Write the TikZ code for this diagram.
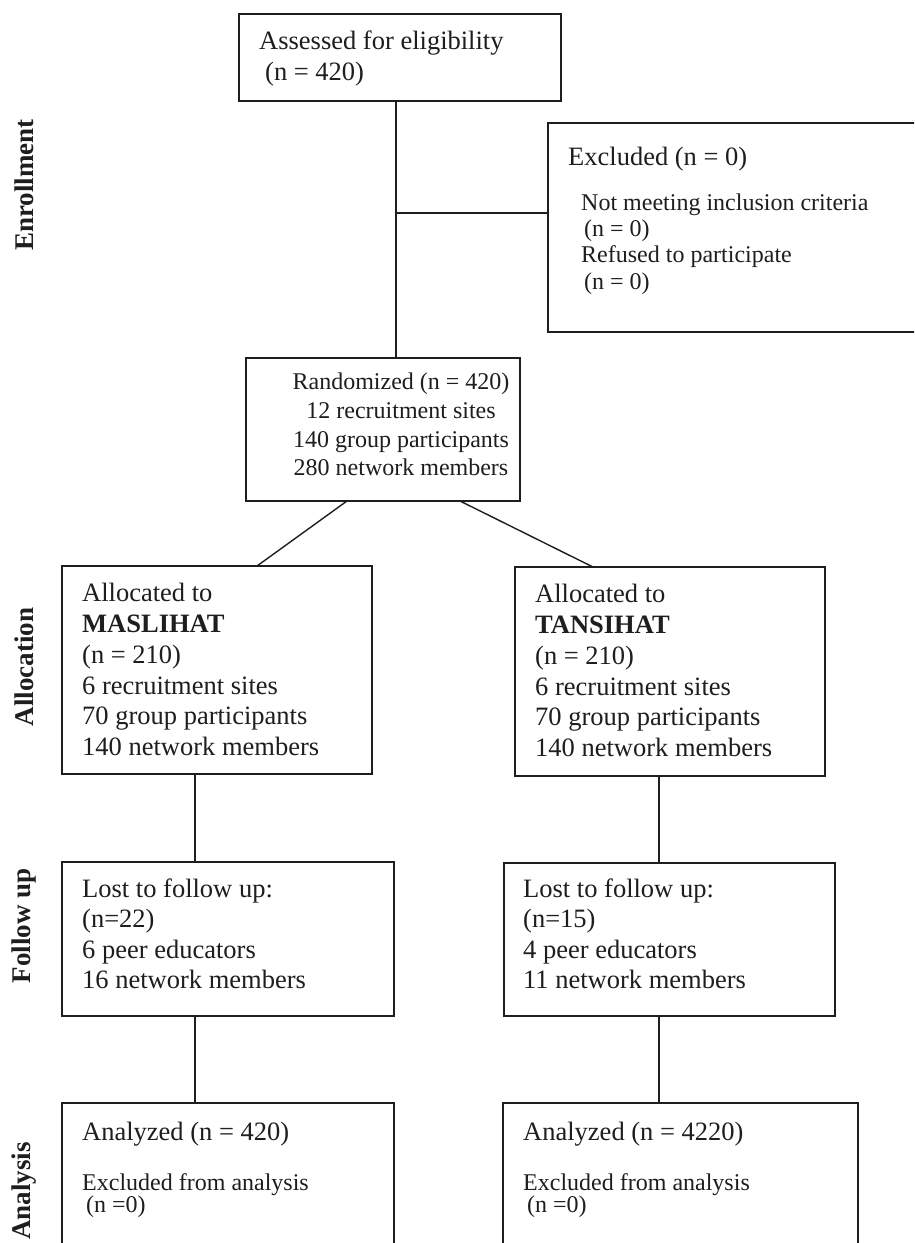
\documentclass[tikz,border=0pt]{standalone}
\usepackage{fontspec}
\setmainfont{Liberation Serif}
\definecolor{ink}{HTML}{1E1E1E}
\begin{document}
\begin{tikzpicture}[x=1pt,y=-1pt,
  box/.style={draw=ink, line width=1.4pt, inner sep=0pt, outer sep=0pt, anchor=north west},
  conn/.style={draw=ink, line width=1.4pt},
  big/.style={anchor=base west, inner sep=0pt, text=ink, font=\fontsize{26.5}{31}\selectfont},
  small/.style={anchor=base west, inner sep=0pt, text=ink, font=\fontsize{24}{28}\selectfont},
  side/.style={rotate=90, inner sep=0pt, text=ink, font=\fontsize{27}{30}\selectfont\bfseries}]
\clip (0,0) rectangle (914,1243);
\fill[white] (0,0) rectangle (914,1243);

% boxes
\node[box, minimum width=322pt, minimum height=87pt] (assess) at (239,14) {};
\node[box, minimum width=400pt, minimum height=209pt] (excl) at (548,123) {};
\node[box, minimum width=274pt, minimum height=143pt] (rand) at (246,358) {};
\node[box, minimum width=310pt, minimum height=208pt] (allocL) at (62,566) {};
\node[box, minimum width=310pt, minimum height=209pt] (allocR) at (515,567) {};
\node[box, minimum width=332pt, minimum height=154pt] (lostL) at (62,862) {};
\node[box, minimum width=331pt, minimum height=153pt] (lostR) at (504,863) {};
\node[box, minimum width=332pt, minimum height=200pt] (anaL) at (62,1103) {};
\node[box, minimum width=355pt, minimum height=200pt] (anaR) at (503,1103) {};

% texts
\node[big] (a1) at (259,49) {Assessed for eligibility};
\node[big] (a2) at (265,80) {(n = 420)};

\node[big] (e1) at (568,165) {Excluded (n = 0)};
\node[small] (e2) at (581,210) {Not meeting inclusion criteria};
\node[small] (e3) at (584,236) {(n = 0)};
\node[small] (e4) at (581,262) {Refused to participate};
\node[small] (e5) at (584,289) {(n = 0)};

\node[small, anchor=base] (r1) at (401,389) {Randomized (n = 420)};
\node[small, anchor=base] (r2) at (401,418) {12 recruitment sites};
\node[small, anchor=base] (r3) at (401,447) {140 group participants};
\node[small, anchor=base] (r4) at (401,475) {280 network members};

\node[big] (l1) at (82,601) {Allocated to};
\node[big] (l2) at (82,632) {\bfseries MASLIHAT};
\node[big] (l3) at (82,663) {(n = 210)};
\node[big] (l4) at (82,694) {6 recruitment sites};
\node[big] (l5) at (82,724) {70 group participants};
\node[big] (l6) at (82,755) {140 network members};

\node[big] (m1) at (535,602) {Allocated to};
\node[big] (m2) at (535,633) {\bfseries TANSIHAT};
\node[big] (m3) at (535,664) {(n = 210)};
\node[big] (m4) at (535,695) {6 recruitment sites};
\node[big] (m5) at (535,725) {70 group participants};
\node[big] (m6) at (535,756) {140 network members};

\node[big] (f1) at (82,897) {Lost to follow up:};
\node[big] (f2) at (82,927) {(n=22)};
\node[big] (f3) at (82,958) {6 peer educators};
\node[big] (f4) at (82,988) {16 network members};

\node[big] (g1) at (523,897) {Lost to follow up:};
\node[big] (g2) at (523,927) {(n=15)};
\node[big] (g3) at (523,958) {4 peer educators};
\node[big] (g4) at (523,988) {11 network members};

\node[big] (n1) at (82,1140) {Analyzed (n = 420)};
\node[small] (n2) at (82,1190) {Excluded from analysis};
\node[small] (n3) at (86,1212) {(n =0)};

\node[big] (o1) at (523,1140) {Analyzed (n = 4220)};
\node[small] (o2) at (523,1190) {Excluded from analysis};
\node[small] (o3) at (527,1212) {(n =0)};

% side labels
\node[side] (s1) at (24,185) {Enrollment};
\node[side] (s2) at (24,667) {Allocation};
\node[side] (s3) at (24,926) {Follow up};
\node[side] (s4) at (24,1191) {Analysis};

% connectors
\coordinate (j) at (396,213);
\coordinate (xL) at (195,0);
\coordinate (xR) at (659,0);
\draw[conn] (assess.south -| j) -- (rand.north -| j);
\draw[conn] (j) -- (excl.west |- j);
\draw[conn] (rand.south -| 347,0) -- (allocL.north -| 257,0);
\draw[conn] (rand.south -| 460,0) -- (allocR.north -| 593,0);
\draw[conn] (allocL.south -| xL) -- (lostL.north -| xL);
\draw[conn] (allocR.south -| xR) -- (lostR.north -| xR);
\draw[conn] (lostL.south -| xL) -- (anaL.north -| xL);
\draw[conn] (lostR.south -| xR) -- (anaR.north -| xR);
\end{tikzpicture}
\end{document}
